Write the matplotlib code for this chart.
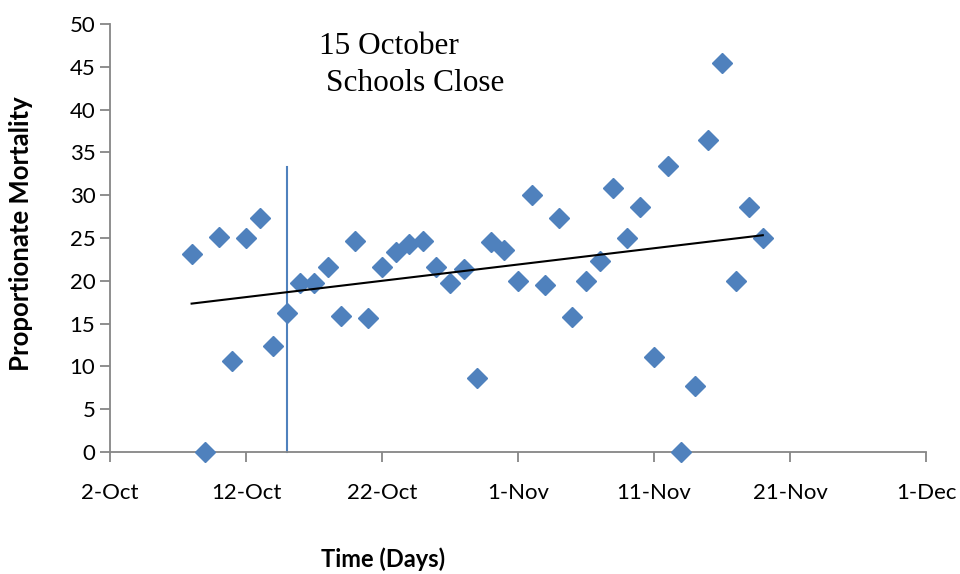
import datetime as dt
import matplotlib
matplotlib.use("Agg")
import matplotlib.pyplot as plt
import matplotlib.dates as mdates
import numpy as np

# daily proportionate mortality, 8-Oct to 19-Nov
start_date = dt.date(2009, 10, 8)
mortality = [23.1, 0.0, 25.1, 10.6, 25.0, 27.3, 12.4, 16.2, 19.7, 19.7,
             21.6, 15.9, 24.6, 15.7, 21.6, 23.4, 24.3, 24.6, 21.6, 19.7,
             21.4, 8.6, 24.5, 23.6, 20.0, 30.0, 19.5, 27.3, 15.8, 20.0,
             22.3, 30.8, 25.0, 28.6, 11.1, 33.4, 0.0, 7.7, 36.4, 45.5,
             20.0, 28.6, 25.0]
dates = [start_date + dt.timedelta(days=i) for i in range(len(mortality))]

school_close = dt.date(2009, 10, 15)
school_close_top = 33.3
tick_dates = [dt.date(2009, 10, 2) + dt.timedelta(days=10 * i) for i in range(7)]
tick_labels = ["2-Oct", "12-Oct", "22-Oct", "1-Nov", "11-Nov", "21-Nov", "1-Dec"]

blue = "#4F81BD"
grey = "#868686"

fig = plt.figure(figsize=(9.6, 5.74), dpi=100)
ax = fig.add_axes([110 / 960, 122 / 574, 816 / 960, 428 / 574])

xnum = mdates.date2num(dates)
ax.plot(xnum, mortality, linestyle="none", marker="D", markersize=10,
        color=blue, clip_on=False, zorder=3)

# linear trend
coef = np.polyfit(xnum, mortality, 1)
ax.plot([xnum[0], xnum[-1]], np.polyval(coef, [xnum[0], xnum[-1]]),
        color="black", lw=1.5, zorder=4)

xs = mdates.date2num(school_close)
ax.plot([xs, xs], [0, school_close_top], color=blue, lw=1.5, zorder=2,
        clip_on=False)

x_note = mdates.date2num(dt.date(2009, 10, 17))
ax.text(x_note + 0.4, 47.4, "15 October",
        family="Liberation Serif", fontsize=22.5, va="center", ha="left")
ax.text(x_note + 0.85, 43.0, "Schools Close",
        family="Liberation Serif", fontsize=22.5, va="center", ha="left")

ax.set_xlim(mdates.date2num(tick_dates[0]), mdates.date2num(tick_dates[-1]))
ax.set_ylim(0, 50)
ax.set_xticks(mdates.date2num(tick_dates))
ax.set_xticklabels(tick_labels)
ax.set_yticks(range(0, 51, 5))

for side in ["top", "right"]:
    ax.spines[side].set_visible(False)
for side in ["left", "bottom"]:
    ax.spines[side].set_color(grey)
    ax.spines[side].set_linewidth(1.3)
ax.tick_params(axis="both", colors=grey, length=7, width=1.3, labelsize=16,
               labelcolor="black")
ax.tick_params(axis="x", pad=15)
for lbl in ax.get_xticklabels() + ax.get_yticklabels():
    lbl.set_family("Lato")

ax.set_xlabel("Time (Days)", family="Lato", fontsize=17, fontweight="bold")
ax.xaxis.set_label_coords(0.335, -0.222)
ax.set_ylabel("Proportionate Mortality", family="Lato", fontsize=18.5,
              fontweight="bold")
ax.yaxis.set_label_coords(-0.094, 0.51)

fig.savefig("out.png", dpi=100)
